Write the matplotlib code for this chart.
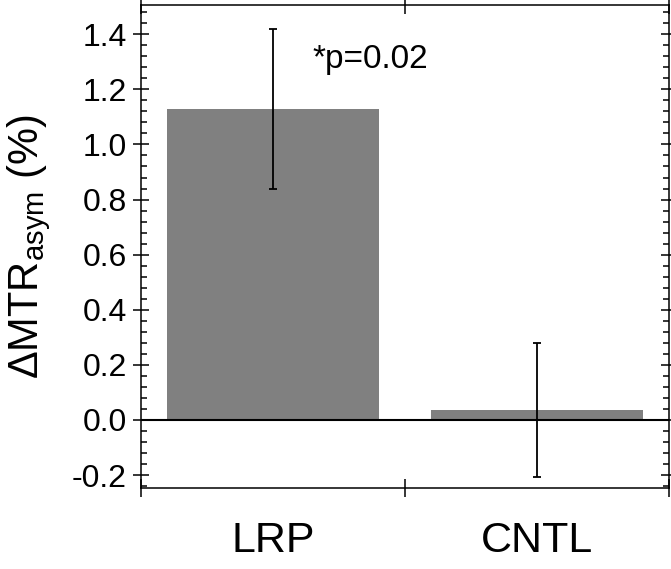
import numpy as np
import matplotlib
matplotlib.use("Agg")
import matplotlib.pyplot as plt
from matplotlib.ticker import MultipleLocator

plt.rcParams['font.family'] = ['Liberation Sans', 'DejaVu Sans']
plt.rcParams['mathtext.fontset'] = 'custom'
plt.rcParams['mathtext.rm'] = 'Liberation Sans'
plt.rcParams['mathtext.it'] = 'Liberation Sans:italic'

# data
groups = ['LRP', 'CNTL']
means = [1.13, 0.035]
errors = [0.29, 0.243]
p_label = '*p=0.02'

fig = plt.figure(figsize=(6.71, 5.69), dpi=100)
ax = fig.add_axes([0.210, 0.1424, 0.787, 0.8487])

centers = np.arange(len(groups)) + 0.5
ax.bar(centers, means, width=0.8, color='#808080', zorder=1)
ax.errorbar(centers, means, yerr=errors, fmt='none', ecolor='black',
            elinewidth=1.3, capsize=3, capthick=1.3, zorder=3)
ax.axhline(0, color='black', linewidth=1.5, zorder=2)

ax.set_xlim(0, 2)
ax.set_ylim(-0.247, 1.506)

# category separators as major ticks, names as minor ticks
ax.set_xticks([0, 1, 2])
ax.set_xticklabels([])
ax.set_xticks(centers, minor=True)
ax.set_xticklabels(groups, minor=True, fontsize=31)
ax.tick_params(axis='x', which='major', direction='inout', length=13, width=1.1,
               top=True)
ax.tick_params(axis='x', which='minor', length=0, pad=24)

ax.yaxis.set_minor_locator(MultipleLocator(0.04))
yt = np.arange(-0.2, 1.41, 0.2)
ax.set_yticks(yt)
ax.set_yticklabels([f'{v:.1f}' for v in yt], fontsize=23)
ax.tick_params(axis='y', which='major', direction='inout', length=12, width=1.1,
               pad=4, right=True)
ax.tick_params(axis='y', which='minor', direction='in', length=4.5, width=1.1,
               right=True)

for s in ax.spines.values():
    s.set_linewidth(1.1)

ax.set_ylabel(r'$\Delta$MTR$_{\rm asym}$ (%)', fontsize=30, labelpad=14)
ax.text(0.648, 1.278, p_label, fontsize=24, ha='left', va='baseline')

fig.savefig('out.png', dpi=100)
